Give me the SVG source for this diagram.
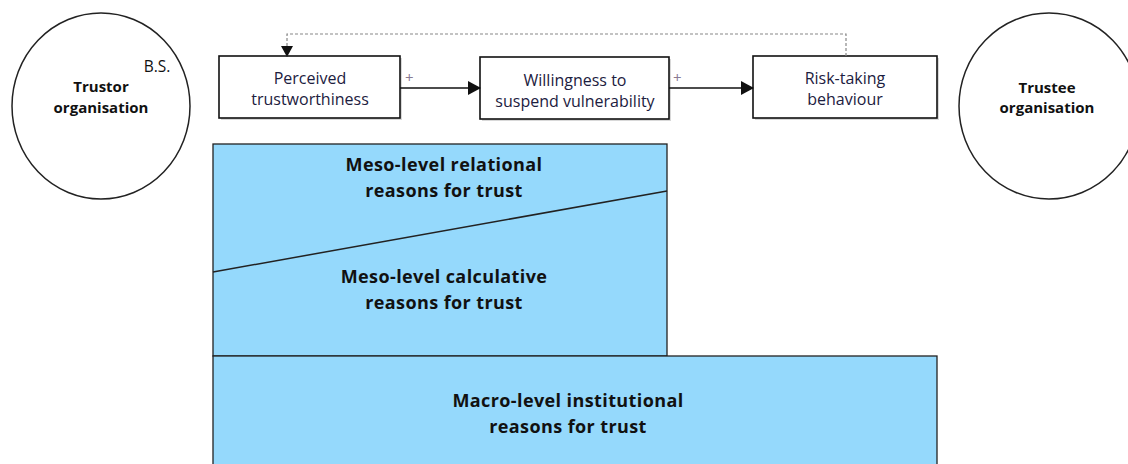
<svg xmlns="http://www.w3.org/2000/svg" width="1128" height="464" viewBox="0 0 1128 464">
  <style>
    .org { fill: #ffffff; stroke: #222; stroke-width: 1.5; }
    .box { fill: #ffffff; stroke: #111; stroke-width: 1.6; }
    .shadow { fill: #d8d8d8; }
    .level { fill: #95d9fc; stroke: #222; stroke-width: 1.3; }
    .t { font-family: "Open Sans", "Liberation Sans", Arial, sans-serif; text-anchor: middle; }
    .box-t { font-size: 16px; fill: #1c2040; }
    .org-t { font-size: 15px; font-weight: bold; fill: #111; }
    .lvl-t { font-size: 18px; font-weight: bold; fill: #111; letter-spacing: 0.4px; }
    .plus { font-family: "Open Sans", "Liberation Sans", Arial, sans-serif; font-size: 15px; fill: #8a7a92; }
    .link { stroke: #111; stroke-width: 1.6; fill: none; }
    .feedback { stroke: #888; stroke-width: 1.2; fill: none; stroke-dasharray: 3 2; }
  </style>
  <defs>
    <marker id="arrow" markerWidth="13" markerHeight="14" refX="12" refY="7" orient="auto" markerUnits="userSpaceOnUse">
      <path d="M0,0 L13,7 L0,14 Z" fill="#111"/>
    </marker>
    <marker id="arrowDown" markerWidth="11" markerHeight="12" refX="10" refY="6" orient="auto" markerUnits="userSpaceOnUse">
      <path d="M0,0 L11,6 L0,12 Z" fill="#111"/>
    </marker>
  </defs>

  <g id="trustor">
    <ellipse class="org" cx="101" cy="106" rx="89" ry="93"/>
    <text class="t" x="157" y="72" style="font-size:15.5px;fill:#111">B.S.</text>
    <text class="t org-t" x="101" y="92">Trustor</text>
    <text class="t org-t" x="101" y="113">organisation</text>
  </g>

  <g id="trustee">
    <ellipse class="org" cx="1049" cy="106" rx="90" ry="93"/>
    <text class="t org-t" x="1047" y="93">Trustee</text>
    <text class="t org-t" x="1047" y="113">organisation</text>
  </g>

  <g id="relational-calculative">
    <rect class="level" x="213" y="144" width="454" height="212"/>
    <line x1="213" y1="272" x2="667" y2="191" stroke="#222" stroke-width="1.5"/>
    <text class="t lvl-t" x="444" y="171">Meso-level relational</text>
    <text class="t lvl-t" x="444" y="197">reasons for trust</text>
    <text class="t lvl-t" x="444" y="283">Meso-level calculative</text>
    <text class="t lvl-t" x="444" y="309">reasons for trust</text>
  </g>

  <g id="institutional">
    <rect class="level" x="213" y="356" width="724" height="112"/>
    <text class="t lvl-t" x="568" y="407">Macro-level institutional</text>
    <text class="t lvl-t" x="568" y="433">reasons for trust</text>
  </g>

  <g id="perceived-trustworthiness">
    <rect class="shadow" x="221" y="58" width="181" height="62"/>
    <rect class="box" x="219" y="56" width="181" height="62"/>
    <text class="t box-t" x="310" y="84">Perceived</text>
    <text class="t box-t" x="310" y="105">trustworthiness</text>
  </g>

  <g id="willingness">
    <rect class="shadow" x="482" y="59" width="189" height="62"/>
    <rect class="box" x="480" y="57" width="189" height="62"/>
    <text class="t box-t" x="575" y="86">Willingness to</text>
    <text class="t box-t" x="575" y="107">suspend vulnerability</text>
  </g>

  <g id="risk-taking">
    <rect class="shadow" x="755" y="58" width="184" height="62"/>
    <rect class="box" x="753" y="56" width="184" height="62"/>
    <text class="t box-t" x="845" y="84">Risk-taking</text>
    <text class="t box-t" x="845" y="105">behaviour</text>
  </g>

  <g id="connectors">
    <line class="link" x1="400" y1="88" x2="480" y2="88" marker-end="url(#arrow)"/>
    <text class="plus" x="405" y="83">+</text>
    <line class="link" x1="669" y1="88" x2="753" y2="88" marker-end="url(#arrow)"/>
    <text class="plus" x="673" y="83">+</text>
    <path class="feedback" d="M846,56 V34 H287 V56" marker-end="url(#arrowDown)"/>
  </g>
</svg>
